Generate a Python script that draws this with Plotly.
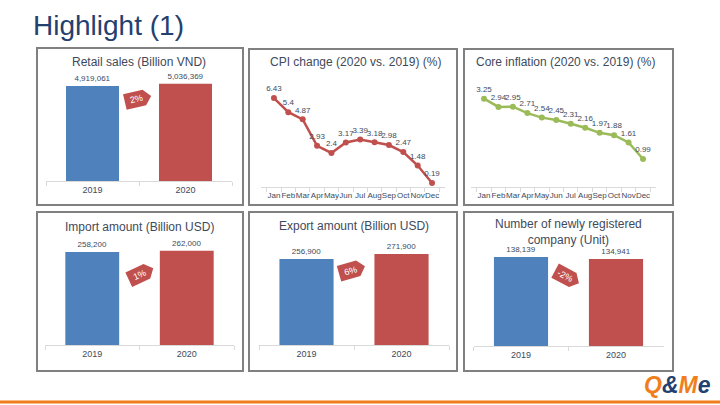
import math
import plotly.graph_objects as go

# ---------------- data ----------------
bar_years = ["2019", "2020"]
retail_sales = [4919061, 5036369]
import_amount = [258200, 262000]
export_amount = [256900, 271900]
new_companies = [138139, 134941]

months = ["Jan", "Feb", "Mar", "Apr", "May", "Jun", "Jul", "Aug", "Sep", "Oct", "Nov", "Dec"]
cpi_change = [6.43, 5.4, 4.87, 2.93, 2.4, 3.17, 3.39, 3.18, 2.98, 2.47, 1.48, 0.19]
core_inflation = [3.25, 2.94, 2.95, 2.71, 2.54, 2.45, 2.31, 2.16, 1.97, 1.88, 1.61, 0.99]

W, H = 720, 405
FONT = "Liberation Sans, Arial, sans-serif"
TXT = "#3E4A5B"
BLUE = "#4F81BD"
RED = "#C0504D"
GREEN = "#9BBB59"
ORANGE = "#F07F1B"
NAVY = "#24406E"


def pxx(x):
    return x / W


def pxy(y):
    return 1 - y / H


fig = go.Figure()
shapes = []
annotations = []


def note(x, y, text, size, color, xanchor="center", yanchor="middle", angle=0):
    annotations.append(dict(xref="paper", yref="paper", x=pxx(x), y=pxy(y), text=text,
                            showarrow=False, xanchor=xanchor, yanchor=yanchor, textangle=angle,
                            font=dict(size=size, color=color, family=FONT)))


# panel borders (pixel boxes)
panels = [
    (37, 48, 243, 205), (249, 49, 457, 205), (464, 49, 673, 205),
    (37, 212, 243, 371), (249, 212, 457, 371), (464, 212, 673, 371),
]
for (x0, y0, x1, y1) in panels:
    shapes.append(dict(type="rect", xref="paper", yref="paper",
                       x0=pxx(x0), x1=pxx(x1), y0=pxy(y1), y1=pxy(y0),
                       line=dict(color="#808080", width=2), fillcolor="rgba(0,0,0,0)"))

# bar panels: (values, title, axis px box [x0, x1, ytop, ybottom], yrange max, title y, badge)
bar_panels = [
    (retail_sales, "Retail sales (Billion VND)", (46, 232, 70, 181), 5.75e6, 62, (138, 99, -13)),
    (import_amount, "Import amount (Billion USD)", (45, 234, 240, 345), 291500, 227, (141, 274, -25)),
    (export_amount, "Export amount (Billion USD)", (259, 449, 240, 345), 313700, 226, (352, 270, -16)),
    (new_companies, "Number of newly registered<br>company (Unit)", (473.5, 663.5, 245, 346), 156800, 232, (567, 277, 28)),
]

axis_idx = 0
layout_axes = {}


def add_axes(box, yrange, tickfont):
    global axis_idx
    axis_idx += 1
    sfx = "" if axis_idx == 1 else str(axis_idx)
    x0, x1, yt, yb = box
    layout_axes["xaxis" + sfx] = dict(
        domain=[pxx(x0), pxx(x1)], anchor="y" + sfx, showgrid=False, zeroline=False,
        showline=True, linecolor="#D9D9D9", linewidth=1, ticks="outside", tickson="boundaries",
        ticklen=4, tickcolor="#D9D9D9", tickangle=0, tickfont=dict(size=tickfont, color=TXT, family=FONT),
        fixedrange=True, type="category")
    layout_axes["yaxis" + sfx] = dict(
        domain=[pxy(yb), pxy(yt)], anchor="x" + sfx, range=yrange, visible=False,
        showgrid=False, zeroline=False, fixedrange=True)
    return "x" + sfx, "y" + sfx


def badge(cx, cy, ang, label):
    w, h, p = 27, 16, 7
    pts = [(-w / 2, -h / 2), (w / 2 - p, -h / 2), (w / 2, 0), (w / 2 - p, h / 2), (-w / 2, h / 2)]
    a = math.radians(ang)
    path = ""
    for i, (x, y) in enumerate(pts):
        rx = cx + x * math.cos(a) - y * math.sin(a)
        ry = cy + x * math.sin(a) + y * math.cos(a)
        path += ("M" if i == 0 else "L") + f"{pxx(rx):.5f},{pxy(ry):.5f}"
    path += "Z"
    shapes.append(dict(type="path", xref="paper", yref="paper", path=path,
                       fillcolor=RED, line=dict(width=0)))
    note(cx - 2 * math.cos(a), cy - 2 * math.sin(a), label, 9, "white", angle=ang)


for vals, title, box, ymax, ty, (bx, by, ba) in bar_panels:
    xa, ya = add_axes(box, [0, ymax], 9)
    fig.add_trace(go.Bar(
        x=bar_years, y=vals, xaxis=xa, yaxis=ya, width=0.57,
        marker=dict(color=[BLUE, RED], line=dict(width=0)),
        text=[f"{v:,}" for v in vals], textposition="outside",
        textfont=dict(size=8, color=TXT, family=FONT), cliponaxis=False, hoverinfo="skip"))
    note((box[0] + box[1]) / 2, ty, title, 12, TXT)
    growth = round((vals[1] / vals[0] - 1) * 100)
    badge(bx, by, ba, f"{growth}%")

# line panels
line_panels = [
    (cpi_change, RED, "CPI change (2020 vs. 2019) (%)", (261, 445, 80, 187), [-0.1, 7.76], 62),
    (core_inflation, GREEN, "Core inflation (2020 vs. 2019) (%)", (471, 656, 80, 187), [-0.06, 3.95], 62),
]
for vals, col, title, box, yr, ty in line_panels:
    xa, ya = add_axes(box, yr, 8)
    fig.add_trace(go.Scatter(
        x=months, y=vals, xaxis=xa, yaxis=ya, mode="lines+markers+text",
        line=dict(color=col, width=2.5), marker=dict(color=col, size=6),
        text=[f"{v:g}" for v in vals], textposition="top center",
        textfont=dict(size=8, color=TXT, family=FONT), cliponaxis=False, hoverinfo="skip"))
    note((box[0] + box[1]) / 2 + 2, ty, title, 12, TXT)

# page title
note(31, 25, "Highlight (1)", 28, NAVY, xanchor="left")

# logo
note(713, 385, (f"<b><i><span style='color:{ORANGE}'>Q</span>"
                f"<span style='color:{NAVY}'>&amp;</span>"
                f"<span style='color:{ORANGE}'>M</span>"
                f"<span style='color:{NAVY}'>e</span></i></b>"), 23, NAVY, xanchor="right")

# bottom orange rule
shapes.append(dict(type="line", xref="paper", yref="paper", x0=0, x1=1, y0=pxy(402), y1=pxy(402),
                   line=dict(color=ORANGE, width=3)))

fig.update_layout(
    width=W, height=H, margin=dict(l=0, r=0, t=0, b=0),
    paper_bgcolor="white", plot_bgcolor="rgba(0,0,0,0)",
    showlegend=False, shapes=shapes, annotations=annotations,
    font=dict(family=FONT, color=TXT), bargap=0.43,
    **layout_axes)

fig.write_html("out.html", config={"displayModeBar": False},
               post_script="document.body.style.margin='0';")
